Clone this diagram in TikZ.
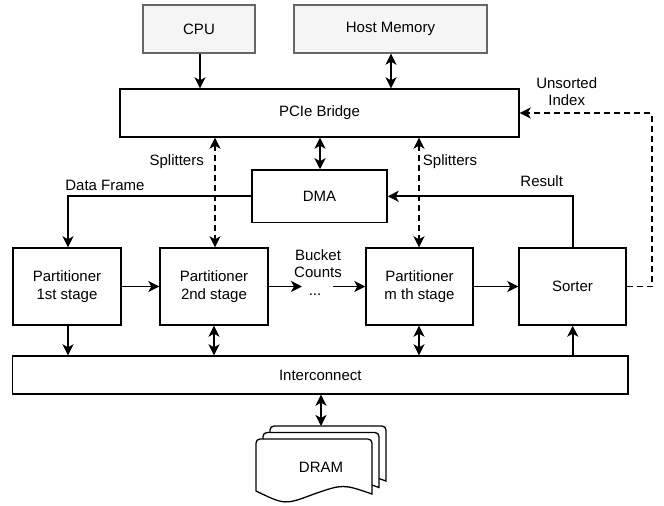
\documentclass[tikz,border=0pt]{standalone}
\usepackage{fontspec}
\setmainfont{Liberation Sans}
\usetikzlibrary{arrows.meta}
\definecolor{hostfill}{HTML}{F5F5F5}
\definecolor{hostdraw}{HTML}{666666}
\tikzset{
  tipa/.tip={Stealth[length=11pt,width=11pt,inset=3pt]},
  blk/.style={draw=black, line width=1.4pt, fill=white, inner sep=0pt, align=center,
    font=\fontsize{15}{17.3}\selectfont},
  hostblk/.style={blk, draw=hostdraw, fill=hostfill},
  lbl/.style={inner sep=0pt, align=center, font=\fontsize{15}{17.3}\selectfont},
  conn/.style={line width=1.7pt, -tipa},
  biconn/.style={line width=1.7pt, tipa-tipa},
  dconn/.style={conn, dash pattern=on 6pt off 4pt},
  dbiconn/.style={biconn, dash pattern=on 6pt off 4pt},
  sheet/.style={draw=black, line width=1.3pt, fill=white},
}
\begin{document}
\begin{tikzpicture}[x=1pt,y=-1pt]
\useasboundingbox (0,0) rectangle (664,506);
% blocks
\node[hostblk, minimum width=112pt, minimum height=48pt] (cpu) at (199,29) {CPU};
\node[hostblk, minimum width=193pt, minimum height=48pt] (host) at (390.5,29) {Host Memory};
\node[blk, minimum width=399pt, minimum height=48pt] (pcie) at (319.5,113) {PCIe Bridge};
\node[blk, minimum width=135pt, minimum height=52.7pt] (dma) at (319.5,196.3) {DMA};
\node[blk, minimum width=108pt, minimum height=77pt] (p1) at (67,286.5) {Partitioner\\1st stage};
\node[blk, minimum width=108pt, minimum height=77pt] (p2) at (214,286.5) {Partitioner\\2nd stage};
\node[blk, minimum width=107pt, minimum height=77pt] (pm) at (419.5,286.5) {Partitioner\\m th stage};
\node[blk, minimum width=107pt, minimum height=77pt] (sorter) at (572.5,286.5) {Sorter};
\node[blk, minimum width=615.5pt, minimum height=38pt] (inter) at (320.3,375) {Interconnect};
% DRAM stack
\foreach \dx/\dy in {14/-13, 7/-6.5, 0/0} {
  \begin{scope}[shift={(\dx,\dy)}]
    \draw[sheet] (256,491) -- (256,443) arc[start angle=180, end angle=90, radius=4pt]
      -- (368,439) arc[start angle=90, end angle=0, radius=4pt]
      -- (372,494) .. controls (343,484) .. (314,494) .. controls (285,505) .. (256,491) -- cycle;
  \end{scope}
}
\node[lbl] (dram) at (321,467) {DRAM};
\coordinate (dramtop) at (321,426);
% labels
\node[lbl] (unsorted) at (566.7,91.5) {Unsorted\\Index};
\node[lbl] (splitL) at (176.7,162) {Splitters};
\node[lbl] (splitR) at (450,162) {Splitters};
\node[lbl] (dframe) at (105,185) {Data Frame};
\node[lbl] (result) at (541.7,181) {Result};
\node[lbl] (bucket) at (318,263.3) {Bucket\\Counts};
\node[lbl] (dots) at (315,295) {...};
% helper coordinates
\coordinate (dotsL) at (302,286.5);
\coordinate (dotsR) at (333,286.5);
\coordinate (dfcorner) at (68,196.3);
\coordinate (rescorner) at (572.7,196.3);
\coordinate (uicornerA) at (651.7,286.5);
\coordinate (uicornerB) at (651.7,113);
% connectors
\draw[conn] (cpu.south -| 200,0) -- (pcie.north -| 200,0);
\draw[biconn] (host.south -| 391,0) -- (pcie.north -| 391,0);
\draw[biconn] (pcie.south -| 320,0) -- (dma.north -| 320,0);
\draw[dbiconn] (pcie.south -| 215,0) -- (p2.north -| 215,0);
\draw[dbiconn] (pcie.south -| 419,0) -- (p2.north -| 419,0);
\draw[conn] (dma.west) -- (dfcorner) -- (p1.north -| dfcorner);
\draw[conn] (sorter.north -| rescorner) -- (rescorner) -- (dma.east);
\draw[dconn] (sorter.east) -- (uicornerA) -- (uicornerB) -- (pcie.east);
\draw[conn] (p1.east) -- (p2.west);
\draw[conn] (p2.east) -- (dotsL);
\draw[conn] (dotsR) -- (pm.west);
\draw[conn] (pm.east) -- (sorter.west);
\draw[conn] (p1.south -| 68,0) -- (inter.north -| 68,0);
\draw[biconn] (p2.south -| 214,0) -- (inter.north -| 214,0);
\draw[biconn] (pm.south -| 419,0) -- (inter.north -| 419,0);
\draw[conn] (inter.north -| rescorner) -- (sorter.south -| rescorner);
\draw[biconn] (inter.south -| dramtop) -- (dramtop);
\end{tikzpicture}
\end{document}
